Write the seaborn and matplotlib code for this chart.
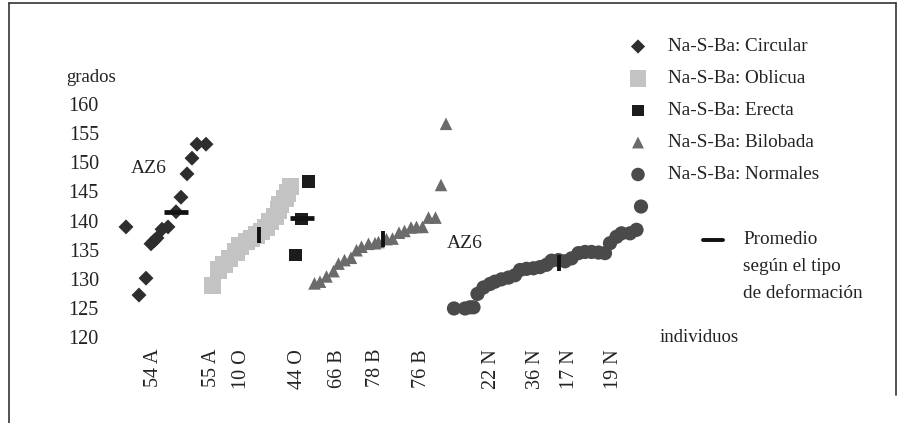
import numpy as np
import pandas as pd
import seaborn as sns
import matplotlib.pyplot as plt
from matplotlib.lines import Line2D

# posición del individuo en el eje x (orden) y ángulo en grados
circ_x = [5.2, 7.8, 9.2, 10.2, 10.8, 11.4, 12.4, 13.6, 15.2, 16.2, 17.4, 18.4, 19.4, 21.2]
circ_y = [138.9, 127.2, 130.1, 136.0, 136.5, 137.0, 138.5, 138.9, 141.5, 144.0, 148.0, 150.7, 153.1, 153.1]

obl_x = [22.5, 23.7, 24.8, 25.9, 27.2, 28.0, 29.3, 30.3, 31.3, 32.3, 33.2, 34.0, 35.0, 35.7, 36.0, 37.0, 37.5, 38.1]
obl_y = [128.9, 131.5, 132.5, 133.5, 134.6, 135.6, 136.4, 136.9, 137.5, 138.1, 138.8, 139.8, 140.7, 141.8, 142.7, 143.8, 144.7, 145.8]

ere_x = [39.1, 40.3, 41.7]
ere_y = [134.1, 140.3, 146.7]

bil_x = [42.9, 44.0, 45.3, 46.7, 47.7, 48.9, 50.2, 51.3, 52.3, 53.7, 55.0, 55.7, 57.3, 58.5, 59.8, 60.9,
         62.2, 63.3, 64.5, 65.7, 67.1, 68.2, 69.2]
bil_y = [129.2, 129.5, 130.4, 131.3, 132.6, 133.2, 133.6, 134.9, 135.5, 136.0, 136.1, 136.3, 136.8, 136.9,
         137.9, 138.2, 138.8, 138.9, 138.9, 140.5, 140.5, 146.1, 156.6]

nor_x = [70.8, 73.0, 74.0, 74.7, 75.5, 76.7, 78.0, 79.0, 80.3, 81.7, 83.0, 84.0, 85.3, 86.7, 88.0, 89.3,
         90.3, 91.7, 93.0, 94.3, 95.7, 97.0, 98.3, 99.7, 101.0, 102.0, 103.3, 104.3, 106.0, 107.3, 108.2]
nor_y = [124.9, 124.9, 125.1, 125.1, 127.4, 128.5, 129.1, 129.5, 129.9, 130.2, 130.6, 131.5, 131.7, 131.8,
         132.0, 132.4, 133.1, 133.2, 133.0, 133.5, 134.4, 134.6, 134.6, 134.5, 134.4, 136.1, 137.2, 137.8,
         137.8, 138.4, 142.4]

# promedio según el tipo de deformación
mean_x = [15.1, 31.7, 40.3, 56.6, 91.8]
mean_y = [141.5, 137.5, 140.5, 136.9, 132.7]
mean_horiz = [True, False, True, False, False]

# individuos rotulados
ind_pos = [10.6, 22.4, 28.4, 39.6, 47.6, 55.0, 64.4, 78.4, 87.0, 94.0, 102.6]
ind_lab = ["54 A", "55 A", "10 O", "44 O", "66 B", "78 B", "76 B", "22 N", "36 N", "17 N", "19 N"]

y_ticks = [120, 125, 130, 135, 140, 145, 150, 155, 160]

series = [
    ("Na-S-Ba: Circular", circ_x, circ_y, "D", 58, "#2e2e2e"),
    ("Na-S-Ba: Oblicua", obl_x, obl_y, "s", 155, "#c3c3c3"),
    ("Na-S-Ba: Erecta", ere_x, ere_y, "s", 78, "#1c1c1c"),
    ("Na-S-Ba: Bilobada", bil_x, bil_y, "^", 82, "#6b6b6b"),
    ("Na-S-Ba: Normales", nor_x, nor_y, "o", 105, "#4a4a4a"),
]

sns.set_theme(style="white")
plt.rcParams['font.family'] = ['Liberation Serif', 'DejaVu Serif']

W, H = 900, 423
fig = plt.figure(figsize=(9, 4.23), dpi=100)
# ejes colocados en píxeles: izquierda 110, derecha 660, arriba 30, abajo 342
ax = fig.add_axes([110 / W, 1 - 342 / H, 550 / W, 312 / H])

for name, xs, ys, mk, sz, col in series:
    df = pd.DataFrame({"x": xs, "y": ys})
    sns.scatterplot(data=df, x="x", y="y", marker=mk, s=sz, color=col,
                    edgecolor="none", linewidth=0, ax=ax, zorder=3)

for mx, my, hz in zip(mean_x, mean_y, mean_horiz):
    if hz:
        ax.plot([mx], [my], marker="_", markersize=17, mew=3.4, color="#111111", zorder=4)
    else:
        ax.plot([mx], [my], marker="|", markersize=12, mew=2.8, color="#111111", zorder=4)

ax.set_xlim(2, 112)
ax.set_ylim(120 - 5 / 5.825, 120 + 307 / 5.825)
ax.set_yticks(y_ticks)
ax.set_yticklabels([str(v) for v in y_ticks])
ax.set_xticks(ind_pos)
ax.set_xticklabels(ind_lab, rotation=90, va="top")
ax.tick_params(axis="y", length=0, pad=8, labelsize=14.5, colors="#222222")
ax.tick_params(axis="x", length=0, pad=5, labelsize=14.5, colors="#222222")
ax.set_xlabel("")
ax.set_ylabel("")
for sp in ax.spines.values():
    sp.set_visible(False)
ax.grid(False)

ax.text(6.2, 149.0, "AZ6", fontsize=14, va="center", ha="left", color="#222222")
ax.text(69.4, 136.0, "AZ6", fontsize=14, va="center", ha="left", color="#222222")

# capa superior en píxeles para leyenda, rótulos y marco
ov = fig.add_axes([0, 0, 1, 1], facecolor="none")
ov.set_xlim(0, W)
ov.set_ylim(H, 0)
ov.axis("off")

ov.text(66, 78, "grados", fontsize=13.5, va="center", ha="left", color="#222222")
ov.text(660, 338, "individuos", fontsize=13.5, va="center", ha="left", color="#222222")

leg_y = [46.5, 78.5, 110.5, 142.5, 174.5]
for (name, xs, ys, mk, sz, col), ly in zip(series, leg_y):
    ov.scatter([638], [ly], marker=mk, s=sz * 0.9, color=col, edgecolor="none")
    ov.text(668, ly, name, fontsize=13.8, va="center", ha="left", color="#222222")

ov.plot([703, 723], [240, 240], color="#111111", lw=2.8)
for ty, t in zip([240, 266.5, 293], ["Promedio", "según el tipo", "de deformación"]):
    ov.text(743, ty, t, fontsize=13.8, va="center", ha="left", color="#222222")

# marco
for xs_, ys_ in [([9, 9], [3, H]), ([9, 896], [3, 3]), ([896, 896], [3, 395])]:
    ov.add_line(Line2D(xs_, ys_, color="#333333", lw=1.2))

fig.savefig("out.png", dpi=100)
